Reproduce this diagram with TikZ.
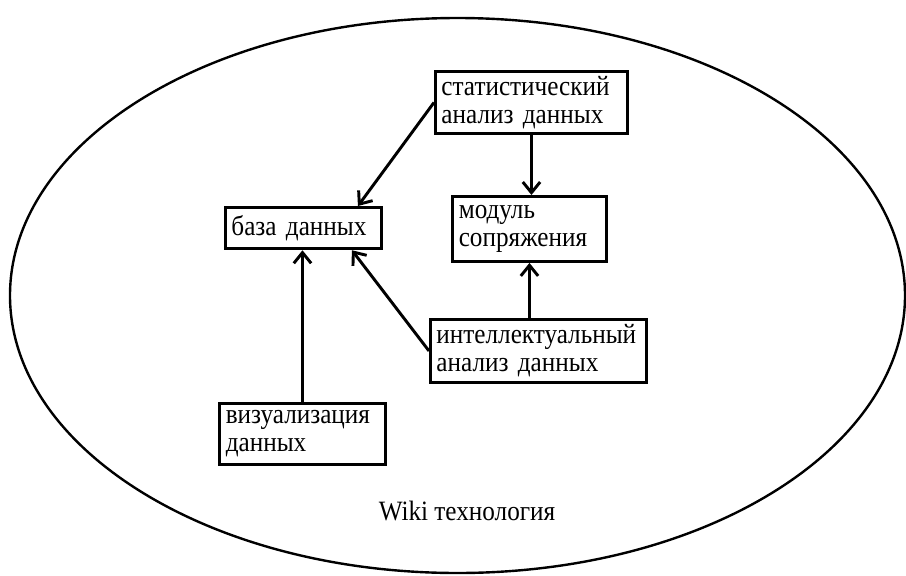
\documentclass[tikz,border=0pt]{standalone}
\usepackage{fontspec}
\setmainfont{Liberation Serif}[FakeStretch=0.9]
\usetikzlibrary{arrows.meta,calc}
\begin{document}
\begin{tikzpicture}[x=0.75pt,y=-0.75pt,
  txt/.style={font=\fontsize{21pt}{21pt}\selectfont},
  box/.style={draw, line width=2.2pt, rectangle, inner xsep=4.5pt, inner ysep=1pt,
    anchor=north west, align=left, txt},
  arr/.style={line width=2.2pt, -{Straight Barb[length=8pt,width=13pt]}}]
\useasboundingbox (0,0) rectangle (906,575);
\draw[line width=1.8pt] (457.5,295.5) ellipse [x radius=447.5, y radius=277.5];
\node[box, minimum width=144pt, minimum height=46.5pt, text width=135pt] (stat) at (434,70) {статистический\\анализ данных};
\node[box, minimum width=117pt, minimum height=31pt, text width=108pt] (db) at (224,206) {база данных};
\node[box, minimum width=115.5pt, minimum height=48.75pt, text width=106pt] (mod) at (451,195) {модуль\\сопряжения};
\node[box, minimum width=162pt, minimum height=47.25pt, text width=153pt] (intel) at (429,318) {интеллектуальный\\анализ данных};
\node[box, minimum width=124.5pt, minimum height=45.75pt, text width=115pt] (viz) at (218,402) {визуализация\\данных};
\node[txt] (wiki) at (467,511) {Wiki технология};
\draw[arr] (stat.west) -- ($(db.north east)+(-25,0)$);
\draw[arr] (stat.south) -- (stat.south |- mod.north);
\draw[arr] (viz.north) -- (viz.north |- db.south);
\draw[arr] (intel.west) -- ($(db.south east)+(-31,0)$);
\draw[arr] (mod.south |- intel.north) -- (mod.south);
\end{tikzpicture}
\end{document}
